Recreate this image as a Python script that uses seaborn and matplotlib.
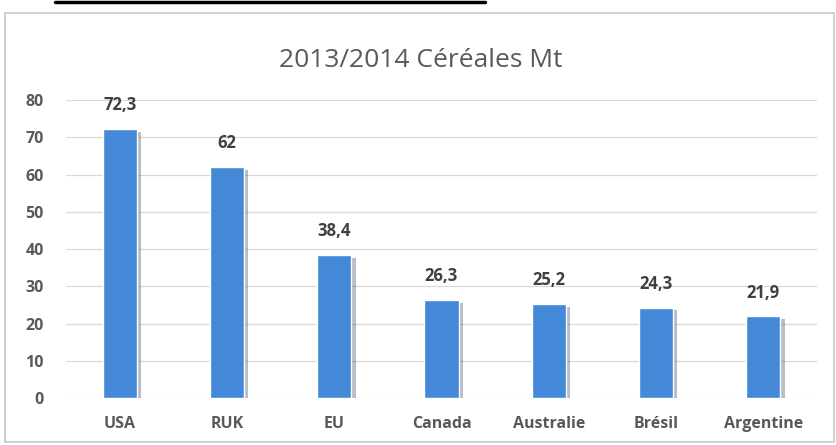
import seaborn as sns
import matplotlib.pyplot as plt
import matplotlib.patheffects as pe
from matplotlib.patches import Rectangle
from matplotlib.lines import Line2D
import pandas as pd

countries = ['USA', 'RUK', 'EU', 'Canada', 'Australie', 'Brésil', 'Argentine']
values = [72.3, 62, 38.4, 26.3, 25.2, 24.3, 21.9]
value_labels = ['72,3', '62', '38,4', '26,3', '25,2', '24,3', '21,9']

df = pd.DataFrame({'Pays': countries, 'Mt': values})

sns.set_style('white')
plt.rcParams['font.family'] = ['Open Sans', 'DejaVu Sans']

fig = plt.figure(figsize=(8.37, 4.45), dpi=100)
ax = fig.add_axes([0.079, 0.1056, 0.897, 0.6694])

sns.barplot(data=df, x='Pays', y='Mt', color='#4389d8', width=0.32,
            saturation=1, ax=ax, zorder=3)
for bar in ax.patches:
    bar.set_path_effects([pe.SimplePatchShadow(offset=(3, -2), alpha=0.3), pe.Normal()])

for i, (v, lab) in enumerate(zip(values, value_labels)):
    ax.text(i, v + 4, lab, ha='center', va='bottom', fontsize=12,
            fontweight='bold', color='#404040')

ax.set_ylim(0, 80)
ax.set_yticks(range(0, 81, 10))
ax.yaxis.grid(True, color='#d9d9d9', linewidth=0.9, zorder=0)
ax.set_axisbelow(True)
for s in ax.spines.values():
    s.set_visible(False)
ax.set_xlabel('')
ax.set_ylabel('')
ax.tick_params(axis='x', length=0, labelsize=11.5, labelcolor='#595959', pad=13)
ax.tick_params(axis='y', length=0, labelsize=11.5, labelcolor='#595959', pad=16)
for t in ax.get_xticklabels() + ax.get_yticklabels():
    t.set_fontweight('bold')

fig.text(0.503, 0.865, '2013/2014 Céréales Mt', ha='center', va='center',
         fontsize=19, color='#595959')

# chart frame and the cut underline at the very top
fig.add_artist(Rectangle((0.006, 0.006), 0.99, 0.965, transform=fig.transFigure,
                         fill=False, edgecolor='#c8c8c8', linewidth=1.2))
fig.add_artist(Line2D([0.066, 0.58], [0.996, 0.996], transform=fig.transFigure,
                      color='black', linewidth=2.5))

plt.savefig('out.png', dpi=100)
